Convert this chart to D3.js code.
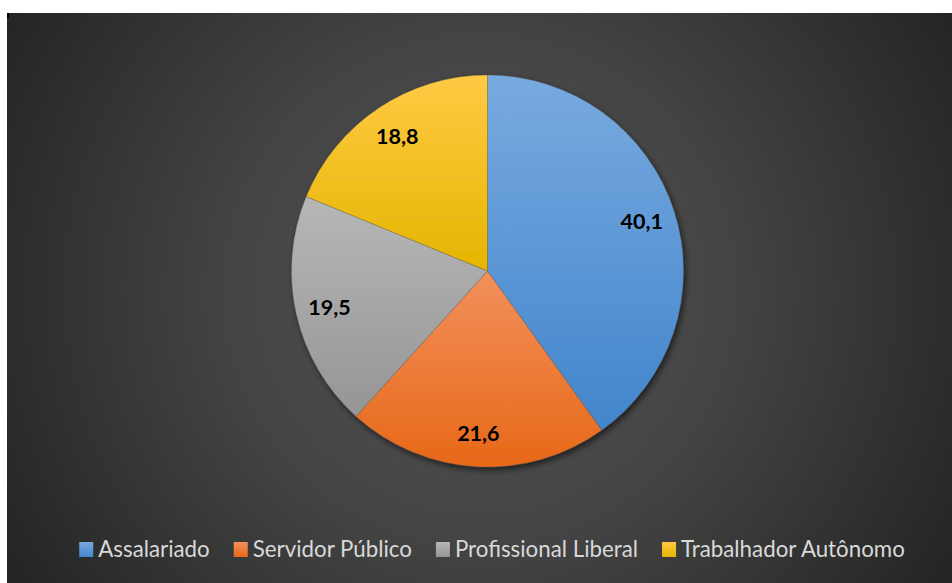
<!DOCTYPE html>
<html>
<head>
<meta charset="utf-8">
<script src="https://cdn.jsdelivr.net/npm/d3@7"></script>
<style>
  html, body { margin: 0; padding: 0; background: #ffffff; }
  svg { display: block; }
</style>
</head>
<body>
<svg id="chart" width="952" height="583"></svg>
<script>
// Distribuição por categoria de ocupação (%)
const categories = ["Assalariado", "Servidor Público", "Profissional Liberal", "Trabalhador Autônomo"];
const values = [40.1, 21.6, 19.5, 18.8];
const labels = ["40,1", "21,6", "19,5", "18,8"];
// gradient colours per slice: [top, bottom]
const sliceColors = [
  ["#78aadf", "#4285cc"],
  ["#f2905c", "#e76817"],
  ["#b7b7b7", "#959595"],
  ["#ffca44", "#e6b500"]
];

const W = 952, H = 583;
const svg = d3.select("#chart");
const defs = svg.append("defs");

// chart area background
const bg = defs.append("radialGradient").attr("id", "bg")
  .attr("gradientUnits", "userSpaceOnUse")
  .attr("cx", 480).attr("cy", 290).attr("r", 560);
bg.append("stop").attr("offset", "0").attr("stop-color", "#535353");
bg.append("stop").attr("offset", "0.45").attr("stop-color", "#444444");
bg.append("stop").attr("offset", "1").attr("stop-color", "#232323");

svg.append("rect").attr("x", 7).attr("y", 13).attr("width", W - 7).attr("height", H - 13)
  .attr("fill", "url(#bg)");
svg.append("rect").attr("x", 7).attr("y", 13).attr("width", 2).attr("height", 5).attr("fill", "#000");

// soft shadow under the pie
const sh = defs.append("filter").attr("id", "shadow")
  .attr("x", "-20%").attr("y", "-20%").attr("width", "140%").attr("height", "140%");
sh.append("feGaussianBlur").attr("in", "SourceAlpha").attr("stdDeviation", 3).attr("result", "b");
sh.append("feOffset").attr("in", "b").attr("dx", 2).attr("dy", 3).attr("result", "o");
sh.append("feComponentTransfer").attr("in", "o").attr("result", "s")
  .append("feFuncA").attr("type", "linear").attr("slope", 0.6);
const m = sh.append("feMerge");
m.append("feMergeNode").attr("in", "s");
m.append("feMergeNode").attr("in", "SourceGraphic");

sliceColors.forEach((c, i) => {
  const g = defs.append("linearGradient").attr("id", "g" + i)
    .attr("x1", 0).attr("y1", 0).attr("x2", 0).attr("y2", 1);
  g.append("stop").attr("offset", "0").attr("stop-color", c[0]);
  g.append("stop").attr("offset", "1").attr("stop-color", c[1]);
});

const cx = 487.5, cy = 271, R = 196;
const pie = d3.pie().sort(null).value(d => d);
const arcs = pie(values);
const arc = d3.arc().innerRadius(0).outerRadius(R);
const labelArc = d3.arc().innerRadius(162).outerRadius(162);

const g = svg.append("g").attr("transform", `translate(${cx},${cy})`);
g.append("g").attr("filter", "url(#shadow)")
  .selectAll("path").data(arcs).join("path")
  .attr("d", arc)
  .attr("fill", (d, i) => `url(#g${i})`)
  .attr("stroke", "rgba(90,90,90,0.5)")
  .attr("stroke-width", 0.6);

g.selectAll("text.lbl").data(arcs).join("text")
  .attr("class", "lbl")
  .attr("transform", d => `translate(${labelArc.centroid(d)})`)
  .attr("text-anchor", "middle")
  .attr("dominant-baseline", "central")
  .attr("font-family", "Lato, 'Open Sans', sans-serif")
  .attr("font-weight", "bold")
  .attr("font-size", 21.5)
  .attr("fill", "#000")
  .text((d, i) => labels[i]);

// legend
const legend = svg.append("g");
const items = legend.selectAll("g").data(categories).join("g");
items.append("rect")
  .attr("width", 14).attr("height", 15).attr("y", -15)
  .attr("fill", (d, i) => `url(#g${i})`);
items.append("text")
  .attr("x", 19).attr("y", 0)
  .attr("font-family", "Lato, 'Open Sans', sans-serif")
  .attr("font-size", 22.3)
  .attr("fill", "#d9d9d9")
  .text(d => d);
let x = 0;
const offsets = [];
items.each(function () {
  offsets.push(x);
  const w = d3.select(this).select("text").node().getComputedTextLength();
  x += 19 + w + 24;
});
const total = x - 24;
const startX = 492 - total / 2;
items.attr("transform", (d, i) => `translate(${startX + offsets[i]},557)`);
</script>
</body>
</html>
